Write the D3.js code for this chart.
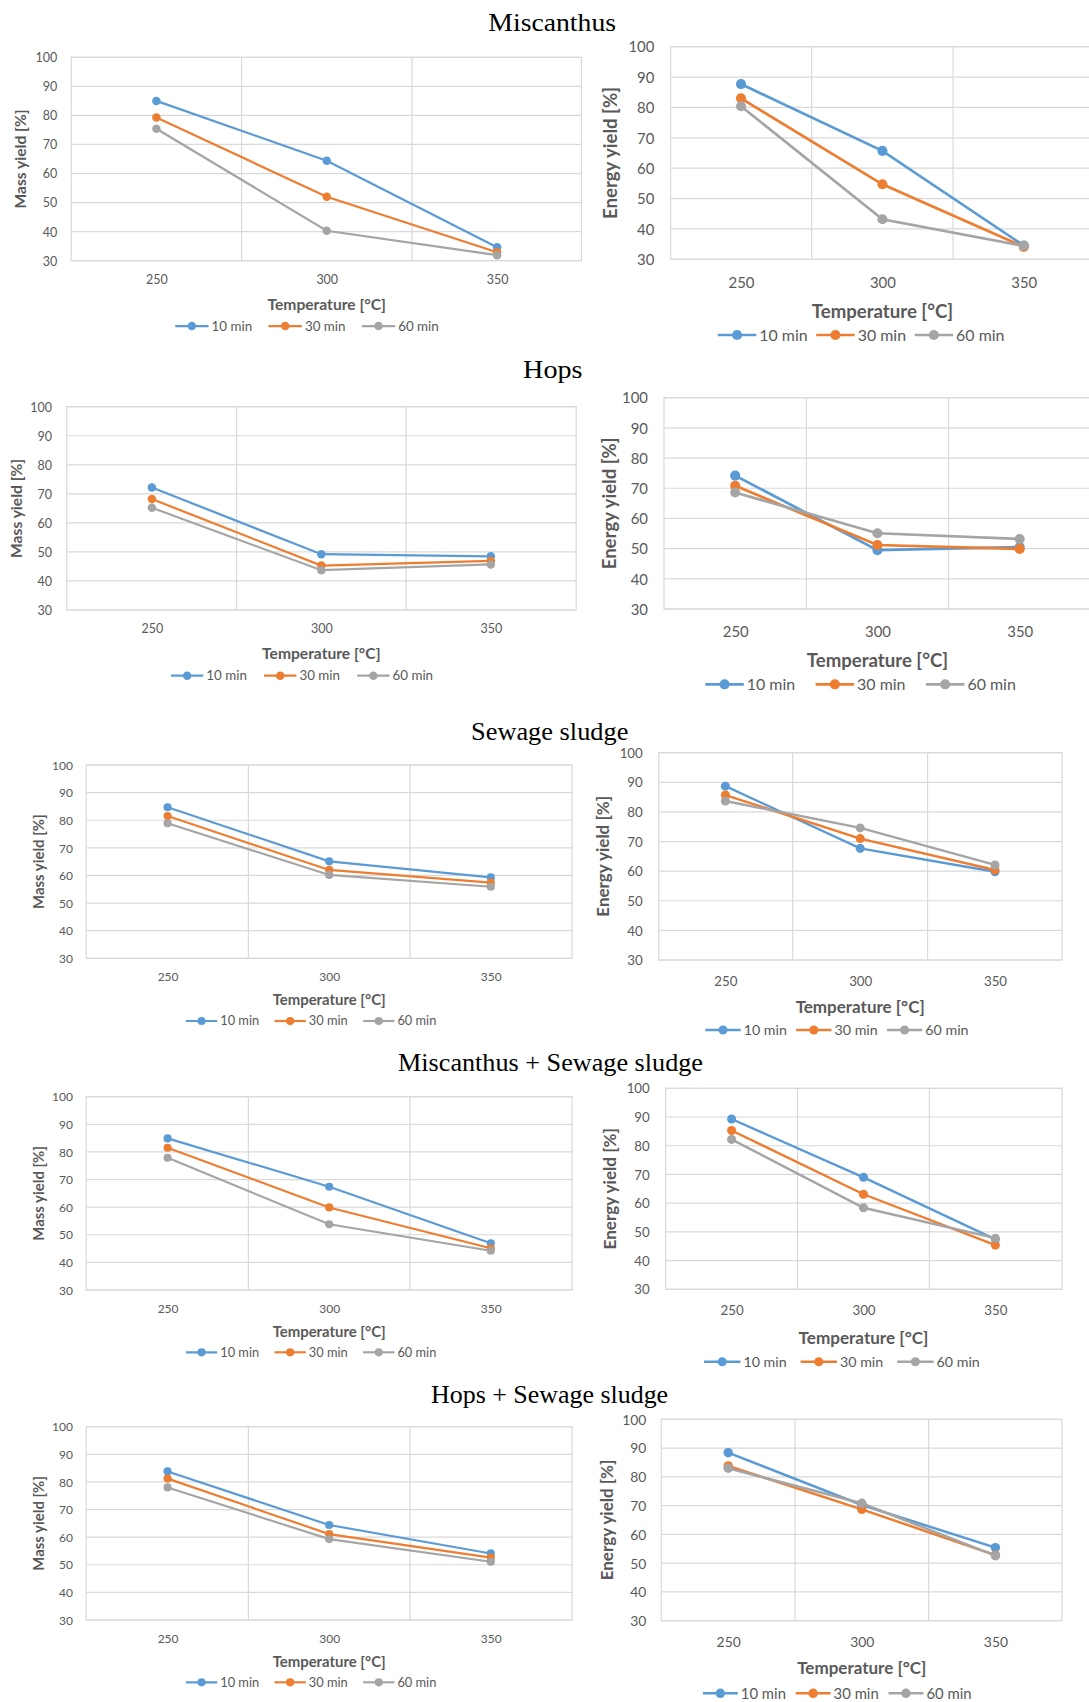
<!DOCTYPE html>
<html>
<head>
<meta charset="utf-8">
<script src="https://cdn.jsdelivr.net/npm/d3@7"></script>
<style>
  body { margin: 0; background: #fff; }
  svg { display: block; }
</style>
</head>
<body>
<script>
// values
const categories = [250, 300, 350];
const seriesNames = ["10 min", "30 min", "60 min"];
const yTicks = [30, 40, 50, 60, 70, 80, 90, 100];
const titles = ["Miscanthus", "Hops", "Sewage sludge", "Miscanthus + Sewage sludge", "Hops + Sewage sludge"];

// rows: 10 min, 30 min, 60 min
const miscanthusMass   = [[85.0, 64.4, 34.6], [79.3, 52.0, 32.9], [75.4, 40.3, 31.9]];
const miscanthusEnergy = [[87.7, 65.7, 34.5], [83.0, 54.7, 34.1], [80.4, 43.2, 34.4]];
const hopsMass         = [[72.2, 49.2, 48.5], [68.2, 45.3, 46.9], [65.2, 43.7, 45.7]];
const hopsEnergy       = [[74.2, 49.5, 50.5], [70.8, 51.2, 49.9], [68.6, 55.1, 53.2]];
const sludgeMass       = [[84.7, 65.1, 59.3], [81.5, 62.0, 57.4], [78.9, 60.2, 55.9]];
const sludgeEnergy     = [[88.7, 67.7, 59.8], [85.7, 71.0, 60.4], [83.7, 74.6, 62.1]];
const mssMass          = [[84.9, 67.4, 46.9], [81.5, 59.9, 45.1], [77.9, 53.8, 44.2]];
const mssEnergy        = [[89.3, 69.0, 47.4], [85.3, 63.1, 45.4], [82.2, 58.4, 47.8]];
const hssMass          = [[83.8, 64.4, 54.1], [81.2, 61.1, 52.6], [78.0, 59.3, 51.1]];
const hssEnergy        = [[88.4, 70.2, 55.4], [83.8, 68.7, 52.8], [83.0, 70.8, 52.6]];

const colors = ["#5B9BD5", "#ED7D31", "#A5A5A5"];
const textColor = "#595959";
const gridColor = "#D9D9D9";

// where each pasted excel chart sits on the page
const layouts = [
  {left:71.2, right:581.4, top:57.3, bottom:260.7, x0:156.4, x1:497.1, yLabR:57.3, xLabY:280, xTitleY:304.3, yTitleX:20.9, legY:326, legX:175.2, legStep:93.3, legLen:33.4, fs:12.5, tfs:15.6},
  {left:670.6, right:1095, top:46.7, bottom:259.3, x0:741, x1:1023.8, yLabR:654.3, xLabY:282.7, xTitleY:311.7, yTitleX:610.6, legY:335, legX:717.8, legStep:98.4, legLen:38.5, fs:14.9, tfs:18.6},
  {left:66.7, right:576.2, top:406.7, bottom:610, x0:151.9, x1:490.8, yLabR:52.1, xLabY:629, xTitleY:653.3, yTitleX:16.7, legY:675.7, legX:171, legStep:93.1, legLen:32.3, fs:12.5, tfs:15.6},
  {left:664, right:1095, top:397.7, bottom:609, x0:735.2, x1:1019.7, yLabR:648, xLabY:631.7, xTitleY:660, yTitleX:609.2, legY:684.3, legX:705.3, legStep:110.3, legLen:38.5, fs:14.9, tfs:18.6},
  {left:86.2, right:572.1, top:765, bottom:958.3, x0:167.6, x1:490.8, yLabR:73, xLabY:976.7, xTitleY:1000, yTitleX:38.9, legY:1021, legX:185.9, legStep:88.6, legLen:31.3, fs:12, tfs:14.9},
  {left:658.8, right:1062, top:752.7, bottom:960, x0:725.4, x1:995, yLabR:642.8, xLabY:981.7, xTitleY:1007.3, yTitleX:603.3, legY:1030, legX:705.3, legStep:90.8, legLen:35.4, fs:13.3, tfs:17},
  {left:86.2, right:572.1, top:1096.7, bottom:1290, x0:167.6, x1:490.8, yLabR:73, xLabY:1308.3, xTitleY:1331.7, yTitleX:38.6, legY:1352.3, legX:185.9, legStep:88.6, legLen:31.3, fs:12, tfs:14.9},
  {left:665.7, right:1062, top:1088.3, bottom:1289.3, x0:731.6, x1:995.4, yLabR:649.8, xLabY:1310.7, xTitleY:1337.7, yTitleX:610.3, legY:1361.7, legX:704, legStep:96.6, legLen:36.4, fs:13.3, tfs:17.1},
  {left:86.2, right:572.1, top:1426.7, bottom:1620, x0:167.6, x1:490.8, yLabR:73, xLabY:1638.3, xTitleY:1661.7, yTitleX:38.6, legY:1682.3, legX:185.9, legStep:88.6, legLen:31.3, fs:12, tfs:14.9},
  {left:661.3, right:1062, top:1419.3, bottom:1620.7, x0:728.2, x1:995.4, yLabR:646.3, xLabY:1641.7, xTitleY:1667.7, yTitleX:606.7, legY:1693.3, legX:702.9, legStep:92.8, legLen:34.9, fs:13.9, tfs:17}
];

const titlePos = [
  {cx:552.2, y:30.7, w:127.7},
  {cx:552.8, y:378, w:59.4},
  {cx:549.7, y:740, w:157.3},
  {cx:550.5, y:1070.7, w:305},
  {cx:549.6, y:1403.3, w:237}
];

const panels = [
  {data: miscanthusMass, yLabel: "Mass yield [%]"},
  {data: miscanthusEnergy, yLabel: "Energy yield [%]"},
  {data: hopsMass, yLabel: "Mass yield [%]"},
  {data: hopsEnergy, yLabel: "Energy yield [%]"},
  {data: sludgeMass, yLabel: "Mass yield [%]"},
  {data: sludgeEnergy, yLabel: "Energy yield [%]"},
  {data: mssMass, yLabel: "Mass yield [%]"},
  {data: mssEnergy, yLabel: "Energy yield [%]"},
  {data: hssMass, yLabel: "Mass yield [%]"},
  {data: hssEnergy, yLabel: "Energy yield [%]"}
];

const svg = d3.select("body").append("svg")
    .attr("width", 1089)
    .attr("height", 1702);

svg.append("rect").attr("width", 1089).attr("height", 1702).attr("fill", "#fff");

titles.forEach((t, i) => {
    const p = titlePos[i];
    svg.append("text")
        .attr("x", p.cx - p.w / 2)
        .attr("y", p.y)
        .attr("textLength", p.w)
        .attr("lengthAdjust", "spacingAndGlyphs")
        .style("font-family", "'Liberation Serif', serif")
        .style("font-size", "26px")
        .style("fill", "#000")
        .text(t);
});

const drawPanel = (panel, L) => {
    const g = svg.append("g");
    const x = d3.scalePoint().domain(categories).range([L.x0, L.x1]);
    const y = d3.scaleLinear().domain([30, 100]).range([L.bottom, L.top]);
    const step = x.step();

    // plot area frame + gridlines
    g.append("rect")
        .attr("x", L.left).attr("y", L.top)
        .attr("width", L.right - L.left).attr("height", L.bottom - L.top)
        .attr("fill", "none").attr("stroke", gridColor).attr("stroke-width", 1.2);

    g.selectAll(".hgrid").data(yTicks).enter().append("line")
        .attr("x1", L.left).attr("x2", L.right)
        .attr("y1", (d) => y(d)).attr("y2", (d) => y(d))
        .attr("stroke", gridColor).attr("stroke-width", 1.2);

    g.selectAll(".vgrid").data(categories.slice(1)).enter().append("line")
        .attr("x1", (d) => x(d) - step / 2).attr("x2", (d) => x(d) - step / 2)
        .attr("y1", L.top).attr("y2", L.bottom)
        .attr("stroke", gridColor).attr("stroke-width", 1.2);

    // axes (labels only, excel style)
    const yAxis = g.append("g")
        .attr("transform", "translate(" + L.yLabR + ",0)")
        .call(d3.axisLeft(y).tickValues(yTicks).tickSize(0).tickPadding(0));
    const xAxis = g.append("g")
        .attr("transform", "translate(0," + L.xLabY + ")")
        .call(d3.axisBottom(x).tickSize(0).tickPadding(0));
    [yAxis, xAxis].forEach((a) => {
        a.select(".domain").remove();
        a.selectAll("text")
            .attr("dy", "0.35em")
            .style("font-family", "Lato, sans-serif")
            .style("font-size", L.fs + "px")
            .style("fill", textColor);
    });
    xAxis.selectAll("text").attr("y", 0);

    g.append("text")
        .attr("x", (L.x0 + L.x1) / 2).attr("y", L.xTitleY)
        .attr("dy", "0.35em")
        .attr("text-anchor", "middle")
        .style("font-family", "Lato, sans-serif")
        .style("font-weight", "bold")
        .style("font-size", L.tfs + "px")
        .style("fill", textColor)
        .text("Temperature [°C]");

    g.append("text")
        .attr("transform", "translate(" + L.yTitleX + "," + (L.top + L.bottom) / 2 + ") rotate(-90)")
        .attr("dy", "0.35em")
        .attr("text-anchor", "middle")
        .style("font-family", "Lato, sans-serif")
        .style("font-weight", "bold")
        .style("font-size", L.tfs + "px")
        .style("fill", textColor)
        .text(panel.yLabel);

    // series
    const r = L.fs * 0.34;
    const lw = L.fs * 0.18;
    const line = d3.line()
        .x((d, i) => x(categories[i]))
        .y((d) => y(d));

    panel.data.forEach((vals, s) => {
        g.append("path")
            .attr("d", line(vals))
            .attr("fill", "none")
            .attr("stroke", colors[s])
            .attr("stroke-width", lw);
        g.selectAll(".pt" + s).data(vals).enter().append("circle")
            .attr("cx", (d, i) => x(categories[i]))
            .attr("cy", (d) => y(d))
            .attr("r", r)
            .attr("fill", colors[s]);
    });

    // legend
    seriesNames.forEach((name, s) => {
        const lx = L.legX + s * L.legStep;
        g.append("line")
            .attr("x1", lx).attr("x2", lx + L.legLen)
            .attr("y1", L.legY).attr("y2", L.legY)
            .attr("stroke", colors[s]).attr("stroke-width", lw);
        g.append("circle")
            .attr("cx", lx + L.legLen / 2).attr("cy", L.legY)
            .attr("r", r).attr("fill", colors[s]);
        g.append("text")
            .attr("x", lx + L.legLen + 3).attr("y", L.legY)
            .attr("dy", "0.35em")
            .style("font-family", "Lato, sans-serif")
            .style("font-size", (L.fs * 1.07) + "px")
            .style("fill", textColor)
            .text(name);
    });
};

panels.forEach((p, i) => drawPanel(p, layouts[i]));
</script>
</body>
</html>
